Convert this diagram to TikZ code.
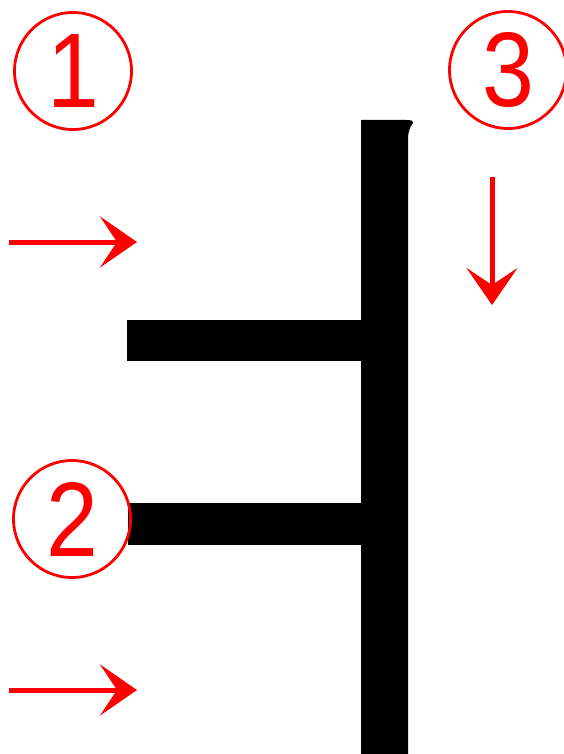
\documentclass[tikz,border=0pt]{standalone}
\usepackage{fontspec}
\setmainfont{Liberation Sans}
\usetikzlibrary{arrows.meta}
\newcommand{\dig}[1]{\scalebox{0.88}[1]{#1}}
\tikzset{
  num/.style={circle, draw=red, line width=2.8pt, minimum size=117pt, inner sep=0pt, text=red, font=\fontsize{106}{106}\selectfont},
  redarrow/.style={draw=red, line width=5pt, -{Stealth[length=37pt, width=51pt, inset=17pt, fill=red]}},
  strokefill/.style={fill=black, draw=none}
}
\begin{document}
\begin{tikzpicture}[x=1pt,y=-1pt]
\useasboundingbox (0,0) rectangle (564,754);
% strokes
\fill[strokefill] (127,320) rectangle (362,361);
\fill[strokefill] (128,503) rectangle (362,545);
\fill[strokefill] (361,754) -- (361,120) -- (406,120) .. controls (412,120) and (414,121) .. (413,123) .. controls (409,128) and (408,133) .. (408,140) -- (408,754) -- cycle;
% numbers
\node[num] (n1) at (73,71) {\dig{1}};
\node[num] (n2) at (72,519) {\dig{2}};
\node[num] (n3) at (508,70) {\dig{3}};
% arrows
\coordinate (a1s) at (9,242);
\coordinate (a1e) at (137,242);
\coordinate (a2s) at (9,690);
\coordinate (a2e) at (137,690);
\coordinate (a3s) at (492,177);
\coordinate (a3e) at (492,305);
\draw[redarrow] (a1s) -- (a1e);
\draw[redarrow] (a2s) -- (a2e);
\draw[redarrow] (a3s) -- (a3e);
\end{tikzpicture}
\end{document}
